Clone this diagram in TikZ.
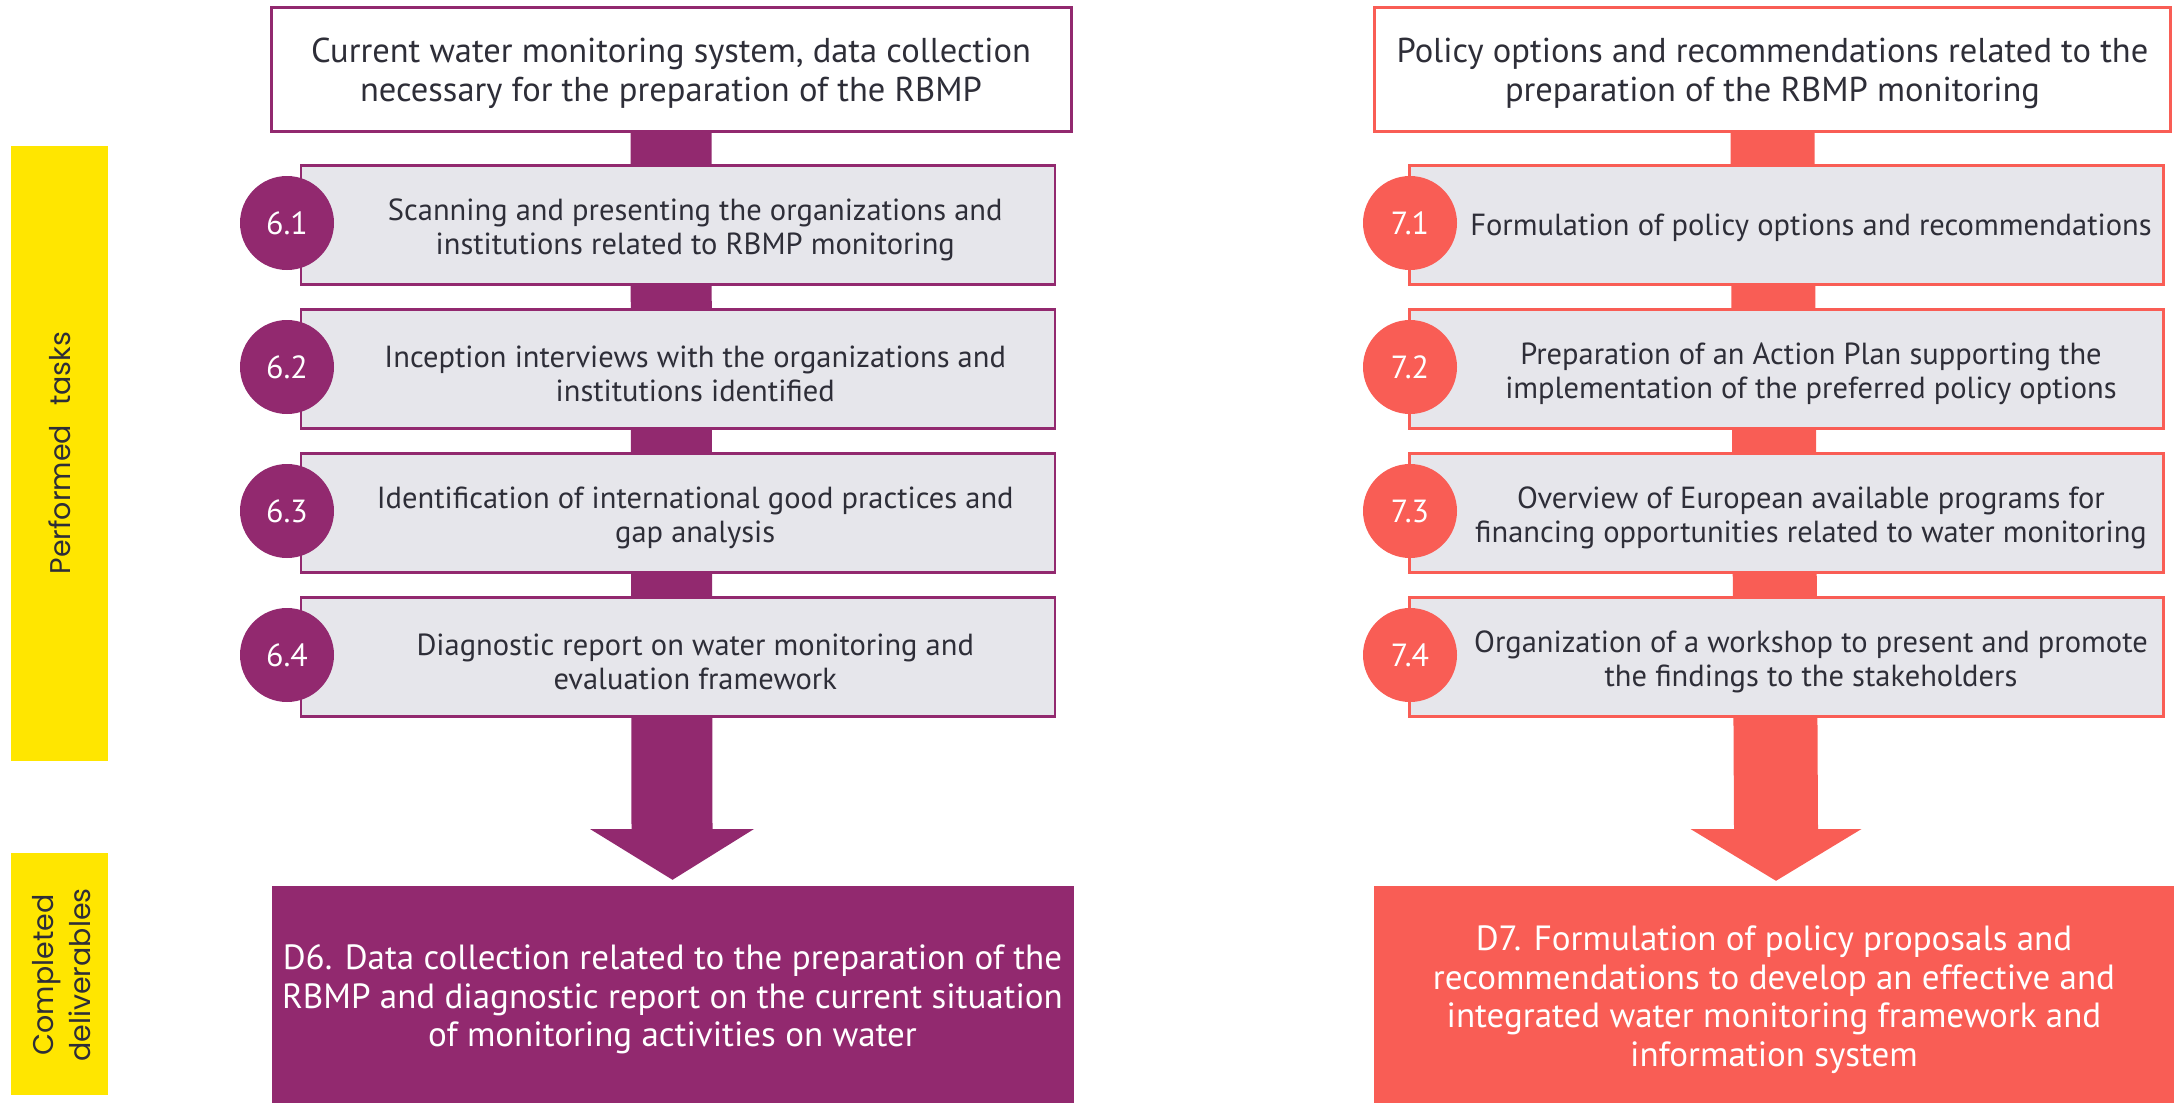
\documentclass[tikz,border=0pt]{standalone}
\usepackage{fontspec}
\setmainfont{PT Sans}
\newfontfamily\labelfont{Poppins}
\usetikzlibrary{calc,backgrounds}
\definecolor{eypurple}{RGB}{146,41,111}
\definecolor{eycoral}{RGB}{249,93,85}
\definecolor{eygray}{RGB}{230,230,235}
\definecolor{eyyellow}{RGB}{255,230,0}
\definecolor{eytext}{RGB}{46,46,56}
\tikzset{
  titlebox/.style={draw=#1, line width=3pt, fill=white, minimum width=800pt, minimum height=124pt},
  titletext/.style={align=center, text=eytext, font=\fontsize{34.5}{39}\selectfont},
  taskbox/.style={draw=#1, line width=2.5pt, fill=eygray, minimum width=754pt, minimum height=119pt},
  tasktext/.style={align=center, text=eytext, font=\fontsize{30.5}{34}\selectfont},
  numcircle/.style={circle, fill=#1, minimum size=94pt, inner sep=0pt, text=white, font=\fontsize{32}{34}\selectfont},
  delivbox/.style={fill=#1, minimum width=802pt, minimum height=217pt},
  delivtext/.style={align=center, text=white, font=\fontsize{35}{38.5}\selectfont},
  bar/.style={line width=#1, draw},
  sidebar/.style={fill=eyyellow},
  sidelabel/.style={rotate=90, align=center, text=eytext, font=\labelfont\fontsize{28.5}{37}\selectfont}
}
\begin{document}
\begin{tikzpicture}[x=1pt,y=-1pt]
\useasboundingbox (0,0) rectangle (2174,1103);
% yellow side bars
\fill[sidebar] (11,146) rectangle (108,761);
\fill[sidebar] (11,853) rectangle (108,1095);
\node[sidelabel] (lab1) at (60,453) {Performed\hspace{0.4em} tasks};
\node[sidelabel] (lab2) at (62,975) {Completed\\deliverables};

% ---------- left column ----------
\node[titlebox=eypurple] (top6) at (671,69.5) {};
\node[titletext] (tt6) at ($(top6.center)+(0,4)$) {Current water monitoring system, data collection\\necessary for the preparation of the RBMP};
\node[taskbox=eypurple] (t61) at (678,225) {};
\node[taskbox=eypurple] (t62) at (678,369) {};
\node[taskbox=eypurple] (t63) at (678,513) {};
\node[taskbox=eypurple] (t64) at (678,657) {};
\node[numcircle=eypurple] (c61) at (287,223) {6.1};
\node[numcircle=eypurple] (c62) at (287,367) {6.2};
\node[numcircle=eypurple] (c63) at (287,511) {6.3};
\node[numcircle=eypurple] (c64) at (287,655) {6.4};
\node[tasktext] (x61) at ($(c61.east)!0.5!(t61.east)+(0,6)$) {Scanning and presenting the organizations and\\institutions related to RBMP monitoring};
\node[tasktext] (x62) at ($(c62.east)!0.5!(t62.east)+(0,6)$) {Inception interviews with the organizations and\\institutions identified};
\node[tasktext] (x63) at ($(c63.east)!0.5!(t63.east)+(0,6)$) {Identification of international good practices and\\gap analysis};
\node[tasktext] (x64) at ($(c64.east)!0.5!(t64.east)+(0,6)$) {Diagnostic report on water monitoring and\\evaluation framework};
\node[delivbox=eypurple] (d6) at (672.5,994.5) {};
\node[delivtext] (dt6) at ($(d6.center)+(0,5)$) {D6. Data collection related to the preparation of the\\RBMP and diagnostic report on the current situation\\of monitoring activities on water};
\coordinate (b6) at (672,829);
\begin{scope}[on background layer]
  \draw[bar=81pt, eypurple] (top6.south) -- (b6);
\end{scope}
\fill[eypurple] ($(b6)+(-82,0)$) -- ($(b6)+(82,0)$) -- ([yshift=6pt]d6.north) -- cycle;

% ---------- right column ----------
\node[titlebox=eycoral, minimum width=796pt] (top7) at (1772.5,69.5) {};
\node[titletext] (tt7) at ($(top7.center)+(0,4)$) {Policy options and recommendations related to the\\preparation of the RBMP monitoring};
\node[taskbox=eycoral] (t71) at (1786.5,225) {};
\node[taskbox=eycoral] (t72) at (1786.5,369) {};
\node[taskbox=eycoral] (t73) at (1786.5,513) {};
\node[taskbox=eycoral] (t74) at (1786.5,657) {};
\node[numcircle=eycoral] (c71) at (1410,223) {7.1};
\node[numcircle=eycoral] (c72) at (1410,367) {7.2};
\node[numcircle=eycoral] (c73) at (1410,511) {7.3};
\node[numcircle=eycoral] (c74) at (1410,655) {7.4};
\node[tasktext] (x71) at ($(c71.east)!0.5!(t71.east)+(0,4)$) {Formulation of policy options and recommendations};
\node[tasktext] (x72) at ($(c72.east)!0.5!(t72.east)+(0,6)$) {Preparation of an Action Plan supporting the\\implementation of the preferred policy options};
\node[tasktext] (x73) at ($(c73.east)!0.5!(t73.east)+(0,6)$) {Overview of European available programs for\\financing opportunities related to water monitoring};
\node[tasktext] (x74) at ($(c74.east)!0.5!(t74.east)+(0,6)$) {Organization of a workshop to present and promote\\the findings to the stakeholders};
\node[delivbox=eycoral, minimum width=800pt] (d7) at (1774,994.5) {};
\node[delivtext] (dt7) at ($(d7.center)+(0,5)$) {D7. Formulation of policy proposals and\\recommendations to develop an effective and\\integrated water monitoring framework and\\information system};
\coordinate (b7) at (1776,829);
\begin{scope}[on background layer]
  \draw[bar=84pt, eycoral] (top7.south) -- (b7);
\end{scope}
\fill[eycoral] ($(b7)+(-85.5,0)$) -- ($(b7)+(85.5,0)$) -- ([yshift=5pt,xshift=2pt]d7.north) -- cycle;
\end{tikzpicture}
\end{document}
